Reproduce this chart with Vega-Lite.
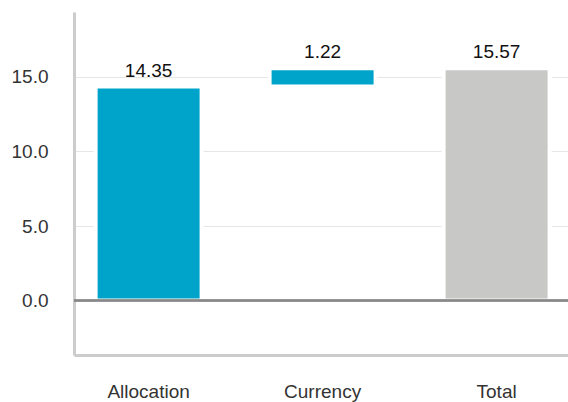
{
  "$schema": "https://vega.github.io/schema/vega-lite/v6.json",
  "width": 494,
  "height": 343,
  "autosize": {"type": "none"},
  "padding": {"left": 74, "top": 12, "right": 0, "bottom": 47},
  "background": "white",
  "config": {
    "view": {"stroke": null},
    "font": "Liberation Sans",
    "axis": {"labelFont": "Liberation Sans"}
  },
  "data": {
    "values": [
      {"category": "Allocation", "start": 0, "end": 14.35, "change": 14.35, "kind": "Change"},
      {"category": "Currency", "start": 14.35, "end": 15.57, "change": 1.22, "kind": "Change"},
      {"category": "Total", "start": 0, "end": 15.57, "change": 15.57, "kind": "Total"}
    ]
  },
  "layer": [
    {
      "mark": {"type": "bar", "stroke": "white", "strokeWidth": 4},
      "encoding": {
        "x": {
          "field": "category",
          "type": "nominal",
          "sort": null,
          "scale": {"paddingInner": 0.3908, "paddingOuter": 0.115, "align": 0.54},
          "axis": {
            "title": null,
            "labelAngle": 0,
            "labelFontSize": 19,
            "labelColor": "#333333",
            "labelPadding": 42,
            "labelBaseline": "alphabetic",
            "ticks": false,
            "domainColor": "#cccccc",
            "domainWidth": 3,
            "grid": false
          }
        },
        "y": {
          "field": "start",
          "type": "quantitative",
          "scale": {"domain": [-3.65, 19.35], "nice": false, "zero": false},
          "axis": {
            "title": null,
            "values": [0, 5, 10, 15],
            "format": ".1f",
            "labelFontSize": 19,
            "labelColor": "#333333",
            "labelPadding": 26,
            "ticks": false,
            "domainColor": "#cccccc",
            "domainWidth": 3,
            "grid": true,
            "gridColor": "#e6e6e6",
            "gridWidth": 1
          }
        },
        "y2": {"field": "end"},
        "color": {
          "field": "kind",
          "type": "nominal",
          "scale": {"domain": ["Change", "Total"], "range": ["#00A4CA", "#C8C8C7"]},
          "legend": null
        }
      }
    },
    {
      "mark": {"type": "rule", "color": "#888888", "strokeWidth": 2},
      "encoding": {"y": {"datum": 0}}
    },
    {
      "mark": {"type": "text", "baseline": "alphabetic", "dy": -10, "fontSize": 19, "color": "#111111"},
      "encoding": {
        "x": {"field": "category", "type": "nominal", "sort": null},
        "y": {"field": "end", "type": "quantitative"},
        "text": {"field": "change", "type": "quantitative", "format": ".2f"}
      }
    }
  ]
}
